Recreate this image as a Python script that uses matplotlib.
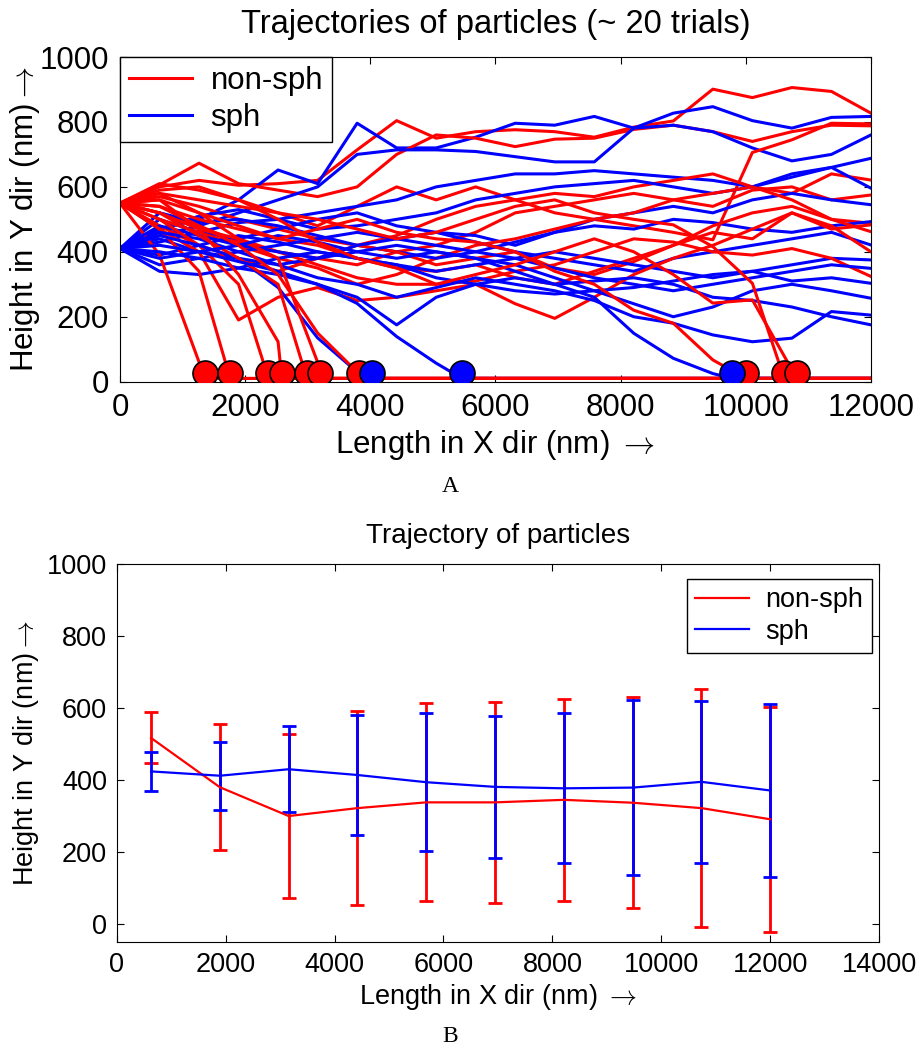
import matplotlib
matplotlib.use("Agg")
import matplotlib.pyplot as plt
from matplotlib.lines import Line2D
import numpy as np

plt.rcParams['font.family'] = ['Liberation Sans', 'DejaVu Sans']
plt.rcParams['mathtext.fontset'] = 'cm'

# ---- panel A data: 20 sample points along x for every trial ----
x_grid = np.linspace(0, 12000, 20)
floor_y = 10      # where a particle rests after it touches down
marker_y = 28     # height of the touch-down circles

# non-spherical particles that stay in the flow
red_free = [
    [550, 600, 620, 605, 610, 620, 714, 804, 750, 770, 776, 770, 753, 784, 803, 901, 875, 906, 894, 827],
    [550, 606, 673, 610, 590, 570, 600, 700, 760, 750, 724, 747, 750, 777, 790, 770, 740, 770, 790, 788],
    [550, 590, 600, 560, 520, 480, 540, 600, 560, 600, 560, 520, 500, 480, 460, 437, 706, 745, 796, 794],
    [550, 570, 540, 500, 470, 440, 420, 450, 500, 540, 560, 580, 570, 600, 620, 640, 600, 580, 640, 621],
    [550, 520, 480, 430, 400, 380, 360, 400, 420, 460, 520, 540, 560, 580, 560, 540, 590, 600, 560, 575],
    [550, 500, 460, 420, 380, 350, 300, 330, 380, 420, 440, 470, 500, 520, 560, 580, 600, 560, 500, 488],
    [550, 480, 420, 380, 340, 380, 420, 400, 360, 380, 400, 350, 330, 370, 420, 460, 440, 520, 470, 483],
    [550, 540, 500, 470, 440, 420, 380, 350, 340, 360, 320, 300, 340, 380, 420, 480, 520, 540, 500, 462],
    [550, 520, 470, 440, 400, 360, 320, 300, 300, 310, 340, 360, 400, 440, 430, 400, 390, 410, 380, 324],
    [550, 470, 400, 190, 260, 290, 250, 260, 280, 300, 240, 195, 260, 330, 380, 420, 470, 520, 480, 400],
]
# non-spherical particles that touch down (values up to the last grid point before impact)
red_fall = [
    [550, 391],
    [550, 470, 340],
    [550, 500, 420, 300],
    [550, 560, 470, 330, 123],
    [550, 520, 450, 380, 300],
    [550, 580, 520, 440, 380, 60],
    [550, 540, 480, 420, 330, 150, 30],
    [550, 560, 520, 480, 440, 470, 500, 460, 440, 430, 400, 340, 300, 220, 180, 67],
    [550, 580, 560, 540, 520, 500, 470, 440, 460, 500, 540, 560, 520, 500, 483, 416, 303],
    [550, 610, 590, 560, 500, 430, 380, 350, 300, 330, 360, 400, 440, 400, 330, 242, 252],
]
red_fall_x = [1360, 1760, 2373, 2587, 2987, 3200, 3813, 10000, 10613, 10816]

# spherical particles
blue_free = [
    [410, 470, 500, 560, 652, 610, 796, 720, 720, 753, 796, 790, 817, 781, 827, 847, 804, 781, 814, 817],
    [410, 450, 480, 520, 560, 600, 700, 714, 714, 709, 693, 677, 677, 781, 790, 770, 720, 680, 700, 760],
    [410, 430, 460, 490, 500, 520, 540, 560, 600, 620, 640, 640, 650, 640, 630, 620, 600, 630, 660, 688],
    [410, 470, 510, 530, 500, 470, 480, 500, 520, 560, 580, 600, 610, 620, 600, 580, 600, 640, 660, 596],
    [410, 500, 460, 440, 470, 500, 520, 480, 460, 450, 420, 460, 500, 520, 540, 520, 560, 580, 560, 545],
    [410, 520, 490, 500, 480, 450, 420, 400, 380, 400, 430, 460, 480, 470, 500, 490, 470, 460, 480, 493],
    [410, 440, 400, 380, 360, 380, 420, 440, 460, 430, 400, 380, 360, 340, 380, 400, 420, 440, 460, 421],
    [410, 390, 420, 450, 430, 400, 380, 360, 340, 360, 380, 400, 380, 360, 340, 320, 340, 360, 380, 375],
    [410, 360, 380, 400, 420, 440, 460, 440, 420, 400, 380, 350, 320, 300, 280, 300, 320, 340, 360, 349],
    [410, 340, 330, 350, 380, 400, 380, 360, 320, 300, 280, 270, 280, 290, 310, 330, 340, 310, 320, 303],
    [410, 480, 450, 420, 400, 380, 400, 420, 400, 380, 360, 320, 280, 240, 200, 230, 280, 300, 280, 257],
    [410, 460, 440, 400, 360, 320, 300, 260, 290, 320, 300, 280, 250, 200, 180, 144, 123, 134, 216, 205],
    [410, 400, 380, 350, 330, 300, 260, 175, 260, 300, 320, 300, 310, 320, 300, 260, 250, 230, 200, 175],
]
blue_fall = [
    [410, 450, 420, 380, 290, 135, 30],
    [410, 420, 400, 370, 340, 300, 241, 139, 57],
    [410, 380, 400, 420, 450, 430, 400, 380, 400, 380, 340, 300, 260, 149, 72, 25],
]
blue_fall_x = [4027, 5467, 9787]

# ---- panel B data: mean +/- spread at every second sample ----
b_x = x_grid[1::2]
red_mean = [517, 380, 300, 322, 338, 338, 345, 337, 322, 291]
red_err = [71, 175, 227, 270, 275, 279, 280, 293, 330, 312]
blue_mean = [424, 412, 430, 414, 394, 381, 377, 379, 395, 371]
blue_err = [54, 95, 120, 168, 192, 197, 208, 243, 225, 240]

arrow = r'$\rightarrow$'

fig = plt.figure(figsize=(9.2, 10.48), dpi=100)

# ---------------- panel A ----------------
ax1 = fig.add_axes([0.1304, 0.6358, 0.8163, 0.3098])
lw = 2.2


def fall_path(vals, hx):
    xs = list(x_grid[:len(vals)]) + [hx, 12000]
    ys = list(vals) + [floor_y, floor_y]
    return xs, ys


red_all = [(x_grid, v) for v in red_free] + [fall_path(v, h) for v, h in zip(red_fall, red_fall_x)]
blue_all = [(x_grid, v) for v in blue_free] + [fall_path(v, h) for v, h in zip(blue_fall, blue_fall_x)]
n = max(len(red_all), len(blue_all))
for k in range(n):
    if k < len(red_all):
        ax1.plot(red_all[k][0], red_all[k][1], color='red', lw=lw)
    if k < len(blue_all):
        ax1.plot(blue_all[k][0], blue_all[k][1], color='blue', lw=lw)

ax1.plot(red_fall_x, [marker_y] * len(red_fall_x), 'o', ms=18, mfc='red', mec='black', mew=1.2, zorder=5)
ax1.plot(blue_fall_x, [marker_y] * len(blue_fall_x), 'o', ms=18, mfc='blue', mec='black', mew=1.2, zorder=6)

ax1.set_xlim(0, 12000)
ax1.set_ylim(0, 1000)
ax1.set_xticks(np.arange(0, 12001, 2000))
ax1.set_yticks(np.arange(0, 1001, 200))
ax1.tick_params(direction='in', top=True, right=True, length=5, labelsize=22.5, pad=8)
ax1.set_title('Trajectories of particles (~ 20 trials)', fontsize=23.5, pad=17)
ax1.set_xlabel('Length in X dir (nm) ' + arrow, fontsize=22.5, labelpad=4)
ax1.set_ylabel('Height in Y dir (nm)' + arrow, fontsize=22.5, labelpad=-2)
handles = [Line2D([], [], color='red', lw=lw), Line2D([], [], color='blue', lw=lw)]
leg1 = ax1.legend(handles, ['non-sph', 'sph'], loc='upper left', fontsize=22.5, frameon=True,
                  fancybox=False, edgecolor='black', framealpha=1, borderaxespad=0,
                  handlelength=2.0, handletextpad=0.6, borderpad=0.3, labelspacing=0.2)
leg1.get_frame().set_linewidth(1.0)
leg1.set_zorder(10)

# ---------------- panel B ----------------
ax2 = fig.add_axes([0.1268, 0.1011, 0.8289, 0.3607])
ax2.errorbar(b_x, red_mean, yerr=red_err, color='red', lw=1.6, elinewidth=2,
             capsize=4.7, capthick=2)
ax2.errorbar(b_x, blue_mean, yerr=blue_err, color='blue', lw=1.6, elinewidth=2,
             capsize=4.7, capthick=2)
ax2.set_xlim(0, 14000)
ax2.set_ylim(-50, 1000)
ax2.set_xticks(np.arange(0, 14001, 2000))
ax2.set_yticks(np.arange(0, 1001, 200))
ax2.tick_params(direction='in', top=True, right=True, length=5, labelsize=19.5, pad=7)
ax2.set_title('Trajectory of particles', fontsize=20, pad=15)
ax2.set_xlabel('Length in X dir (nm) ' + arrow, fontsize=19.5, labelpad=3)
ax2.set_ylabel('Height in Y dir (nm)' + arrow, fontsize=19.5, labelpad=4)
handles2 = [Line2D([], [], color='red', lw=1.6), Line2D([], [], color='blue', lw=1.6)]
leg2 = ax2.legend(handles2, ['non-sph', 'sph'], loc='upper right',
                  bbox_to_anchor=(0.99, 0.96), fontsize=19.5, frameon=True,
                  fancybox=False, edgecolor='black', framealpha=1, borderaxespad=0,
                  handlelength=2.0, handletextpad=0.6, borderpad=0.3, labelspacing=0.2)
leg2.get_frame().set_linewidth(1.0)

fig.text(0.489, 1 - 486 / 1048, 'A', fontsize=17, family='Liberation Serif', ha='center', va='center')
fig.text(0.489, 1 - 1036 / 1048, 'B', fontsize=17, family='Liberation Serif', ha='center', va='center')

fig.savefig('out.png', dpi=100)
